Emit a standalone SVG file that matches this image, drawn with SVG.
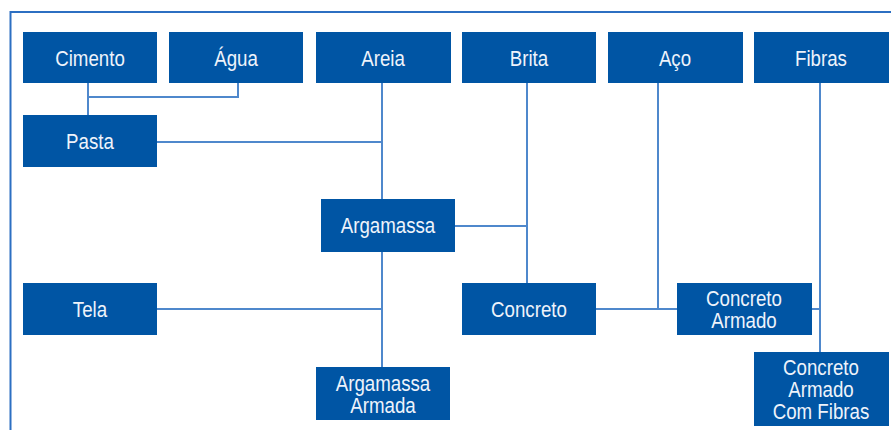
<svg xmlns="http://www.w3.org/2000/svg" width="891" height="430" viewBox="0 0 891 430">
<style>
.b{fill:#0055a4}
.t{fill:#eef3fb;font-family:"Liberation Sans",Arial,sans-serif;font-size:22px;text-anchor:middle}
.c{fill:none;stroke:#4f88cc;stroke-width:2}
</style>
<rect width="891" height="430" fill="#fff"/>
<path d="M10.5 430 V12 H891" fill="none" stroke="#2c6fc2" stroke-width="2"/>
<g id="connectors" class="c">
<path d="M88 83 V115 M88 97 H238 V83"/>
<path d="M157 142 H382"/>
<path d="M382 83 V199"/>
<path d="M382 252 V367"/>
<path d="M157 309 H382"/>
<path d="M455 226 H527"/>
<path d="M527 83 V283"/>
<path d="M596 309 H677"/>
<path d="M658 83 V309"/>
<path d="M812 309 H820"/>
<path d="M820 83 V352"/>
</g>
<g id="cimento"><rect class="b" x="23" y="32" width="134" height="51"/><text class="t" transform="translate(90 66) scale(0.85 1)">Cimento</text></g>
<g id="agua"><rect class="b" x="169" y="32" width="134" height="51"/><text class="t" transform="translate(236 66) scale(0.85 1)">Água</text></g>
<g id="areia"><rect class="b" x="316" y="32" width="135" height="51"/><text class="t" transform="translate(383 66) scale(0.85 1)">Areia</text></g>
<g id="brita"><rect class="b" x="462" y="32" width="134" height="51"/><text class="t" transform="translate(529 66) scale(0.85 1)">Brita</text></g>
<g id="aco"><rect class="b" x="608" y="32" width="135" height="51"/><text class="t" transform="translate(675 66) scale(0.85 1)">Aço</text></g>
<g id="fibras"><rect class="b" x="754" y="32" width="135" height="51"/><text class="t" transform="translate(821 66) scale(0.85 1)">Fibras</text></g>
<g id="pasta"><rect class="b" x="23" y="115" width="134" height="52"/><text class="t" transform="translate(90 149) scale(0.85 1)">Pasta</text></g>
<g id="argamassa"><rect class="b" x="321" y="199" width="134" height="53"/><text class="t" transform="translate(388 233) scale(0.85 1)">Argamassa</text></g>
<g id="tela"><rect class="b" x="23" y="283" width="134" height="52"/><text class="t" transform="translate(90 317) scale(0.85 1)">Tela</text></g>
<g id="concreto"><rect class="b" x="462" y="283" width="134" height="52"/><text class="t" transform="translate(529 317) scale(0.85 1)">Concreto</text></g>
<g id="concreto-armado"><rect class="b" x="677" y="283" width="135" height="52"/><text class="t" transform="translate(744 306) scale(0.85 1)"><tspan x="0" y="0">Concreto</tspan><tspan x="0" y="22">Armado</tspan></text></g>
<g id="argamassa-armada"><rect class="b" x="316" y="367" width="134" height="53"/><text class="t" transform="translate(383 391) scale(0.85 1)"><tspan x="0" y="0">Argamassa</tspan><tspan x="0" y="22">Armada</tspan></text></g>
<g id="concreto-armado-fibras"><rect class="b" x="754" y="352" width="135" height="74"/><text class="t" transform="translate(821 375) scale(0.85 1)"><tspan x="0" y="0">Concreto</tspan><tspan x="0" y="22">Armado</tspan><tspan x="0" y="44">Com Fibras</tspan></text></g>
</svg>
